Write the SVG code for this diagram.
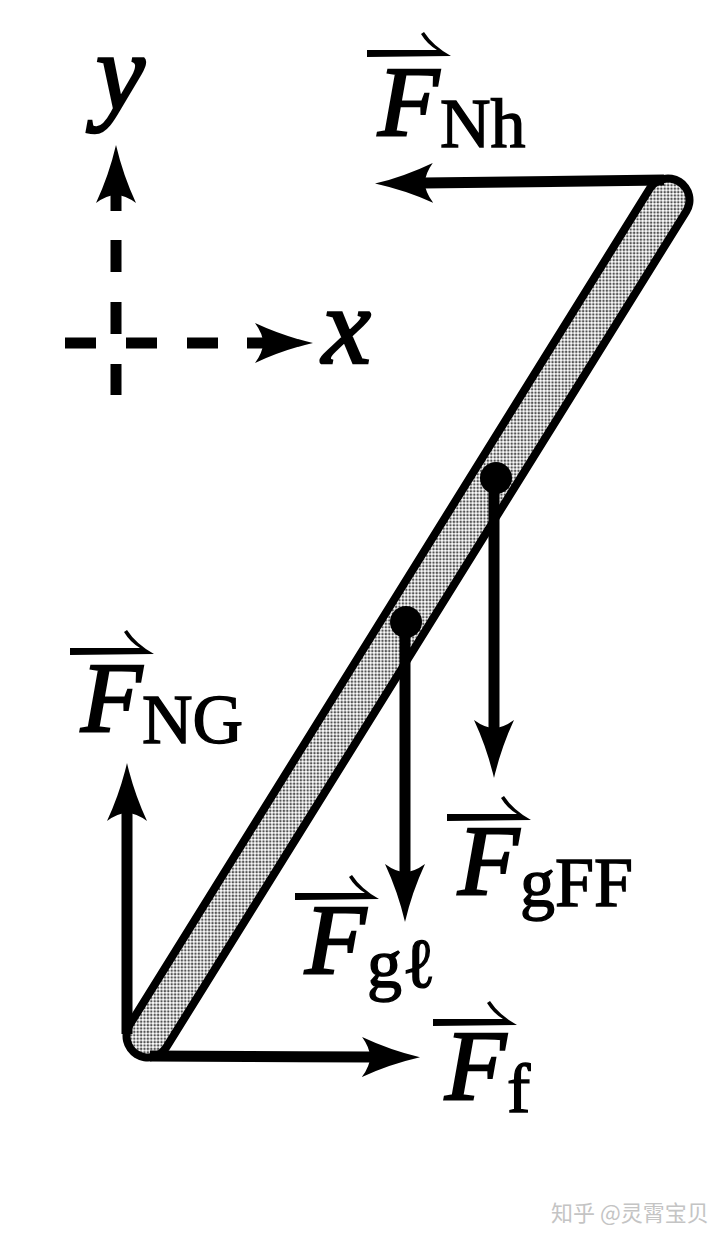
<svg xmlns="http://www.w3.org/2000/svg" width="720" height="1243" viewBox="0 0 720 1243">
<style>
.conn{stroke:#000;stroke-width:11;fill:none;marker-end:url(#head)}
.dash{stroke:#000;stroke-width:11;fill:none}
.F{font:italic 100px "Liberation Serif",serif;fill:#000;stroke:#000;stroke-width:2.4}
.sub{font:70px "Liberation Serif",serif;fill:#000;stroke:#000;stroke-width:1.4}
.ax{font:italic 110px "Liberation Serif",serif;fill:#000;stroke:#000;stroke-width:2.6}
.wm{font:22px "Noto Sans CJK SC","Noto Sans",sans-serif;fill:#c4c4c4}
</style>
<defs>
<pattern id="halftone" patternUnits="userSpaceOnUse" width="3.4" height="3.4">
<rect width="3.4" height="3.4" fill="#fff"/>
<circle cx="1.7" cy="1.7" r="1.25" fill="#555"/>
</pattern>
<marker id="head" markerUnits="userSpaceOnUse" markerWidth="60" markerHeight="42" refX="10" refY="21" orient="auto">
<path d="M58,21 Q28,14 0,1 Q8,12 8,21 Q8,30 0,41 Q28,28 58,21Z" fill="#000"/>
</marker>
<path id="vec" d="M0,-4 L70,-4 Q60,-10 54,-20 L57,-22 Q66,-8 84,2 L0,3Z" fill="#000"/>
<filter id="soft"><feGaussianBlur stdDeviation="0.5"/></filter>
</defs>
<g filter="url(#soft)">
<g id="rod">
<line x1="668" y1="200" x2="148" y2="1036" stroke="#000" stroke-width="51" stroke-linecap="round"/>
<line x1="668" y1="200" x2="148" y2="1036" stroke="url(#halftone)" stroke-width="35" stroke-linecap="round"/>
</g>
<g id="connectors">
<line class="conn" x1="664" y1="180" x2="423" y2="183"/>
<line class="conn" x1="127" y1="1034" x2="127" y2="811"/>
<line class="conn" x1="150" y1="1056" x2="372" y2="1057"/>
<line class="conn" x1="494" y1="478" x2="494" y2="730"/>
<line class="conn" x1="405" y1="622" x2="405" y2="874"/>
</g>
<g id="axes">
<path class="dash" d="M116,240V272M116,302V334M116,364V395M65,343H96M126,343H157M187,343H218"/>
<line class="conn" x1="116" y1="211" x2="116" y2="193"/>
<line class="conn" x1="247" y1="343" x2="265" y2="343"/>
<text class="ax" x="96" y="110">y</text>
<text class="ax" x="322" y="363">x</text>
</g>
<g id="point-cm-forklift"><circle cx="496" cy="478" r="16" fill="#000"/></g>
<g id="point-cm-ladder"><circle cx="406" cy="622" r="16" fill="#000"/></g>
<g id="label-FNh"><use href="#vec" x="367" y="54"/><text class="F" x="378" y="135">F</text><text class="sub" x="440" y="147">Nh</text></g>
<g id="label-FNG"><use href="#vec" x="70" y="652"/><text class="F" x="81" y="731">F</text><text class="sub" x="142" y="743">NG</text></g>
<g id="label-FgFF"><use href="#vec" x="447" y="818"/><text class="F" x="458" y="894">F</text><text class="sub" x="520" y="906">gFF</text></g>
<g id="label-Fgl"><use href="#vec" x="295" y="897"/><text class="F" x="305" y="973">F</text><text class="sub" x="367" y="987">gℓ</text></g>
<g id="label-Ff"><use href="#vec" x="433" y="1023"/><text class="F" x="445" y="1099">F</text><text class="sub" x="507" y="1112">f</text></g>
</g>
<g id="watermark"><text class="wm" x="551" y="1221">知乎 @灵霄宝贝</text></g>
</svg>
